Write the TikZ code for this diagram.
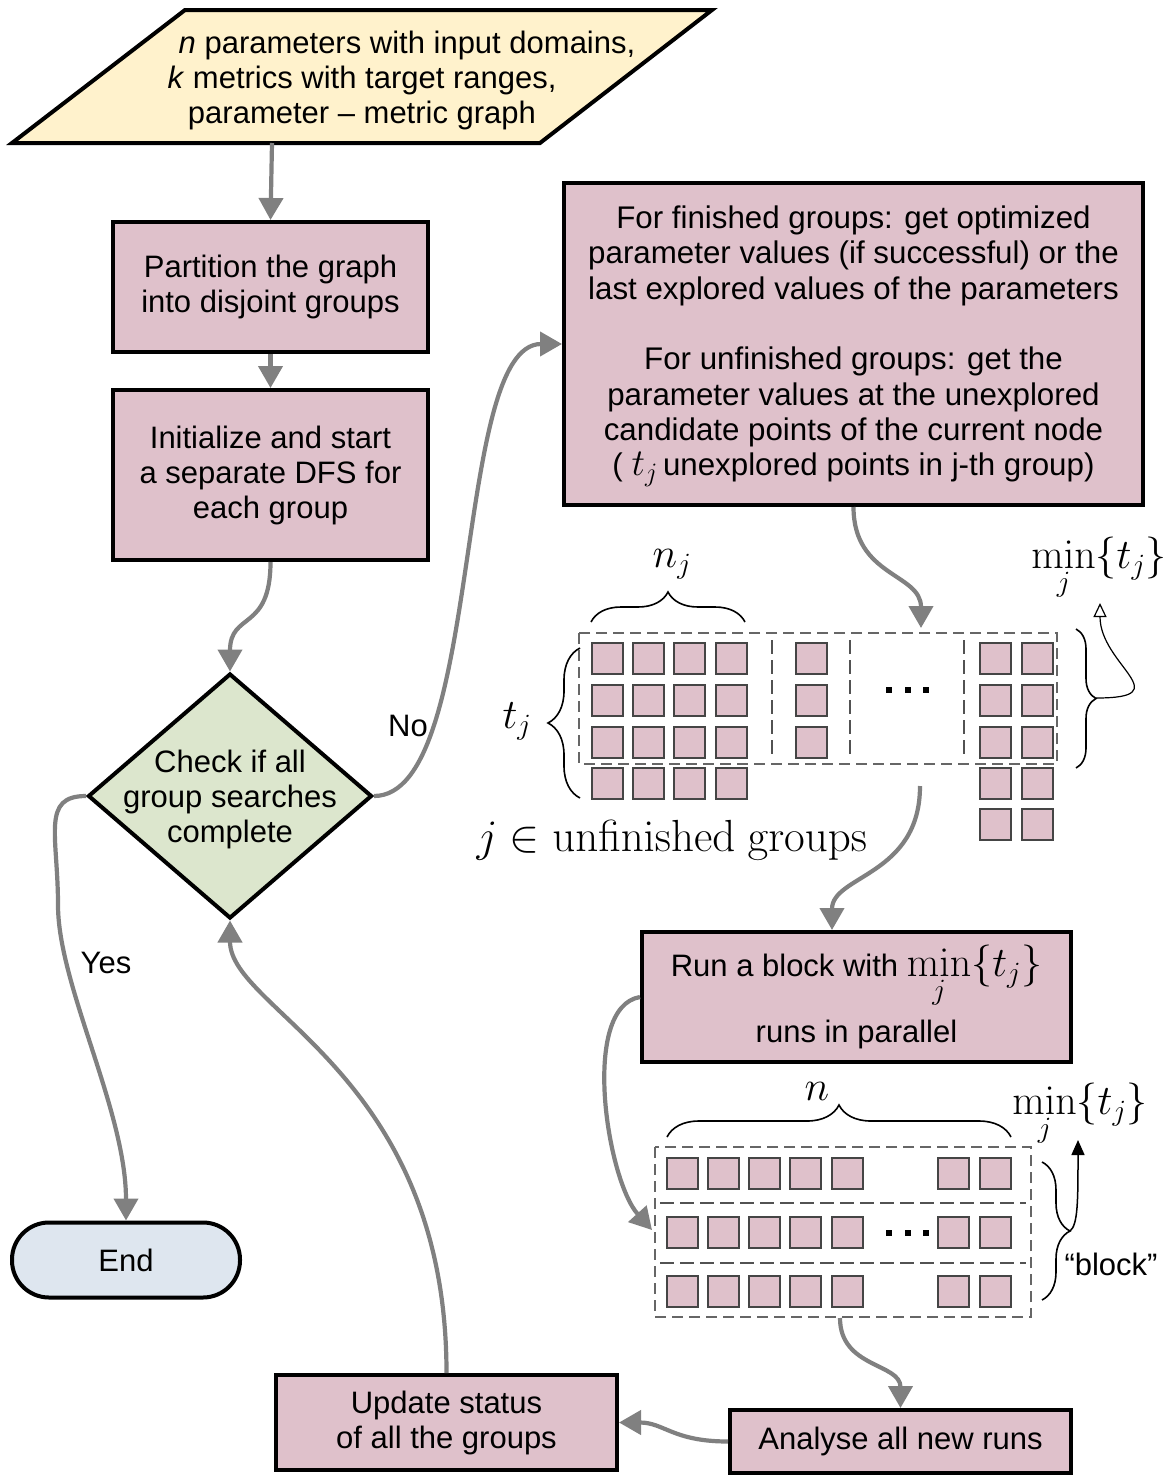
\RequirePackage{fix-cm}
\documentclass[tikz,border=0pt]{standalone}
\usepackage{amsmath}
\usepackage[no-math]{fontspec}
\setmainfont{Liberation Sans}
\usetikzlibrary{shapes.geometric,arrows.meta,decorations.pathreplacing}
\definecolor{pinkf}{HTML}{DFC1CB}
\definecolor{yelf}{HTML}{FFF2CC}
\definecolor{grnf}{HTML}{DCE6CD}
\definecolor{bluf}{HTML}{DEE6EF}
\definecolor{conng}{HTML}{808080}
\definecolor{sqb}{HTML}{454545}
\definecolor{dshg}{HTML}{666666}
\tikzset{
  txt/.style={font=\fontsize{31}{35}\selectfont, align=center, inner sep=0pt},
  box/.style={txt, draw=black, line width=4pt, fill=pinkf},
  conn/.style={draw=conng, line width=4.2pt, -{Triangle[length=22pt,width=24pt]}},
  sq/.style={draw=sqb, fill=pinkf, line width=1.8pt},
  outerdash/.style={draw=dshg, line width=1.8pt, dash pattern=on 11pt off 6pt},
  sepdash/.style={draw=dshg!80!black, line width=2.2pt, dash pattern=on 14pt off 6pt},
  brc/.style={draw=black, line width=1.6pt, decorate, decoration={brace, amplitude=#1}},
  mathl/.style={font=\fontsize{42}{46}\selectfont, inner sep=0pt, anchor=base},
}
\begin{document}
\begin{tikzpicture}[x=1pt,y=-1pt]
\fill[white] (0,0) rectangle (1170,1475);
\useasboundingbox (0,0) rectangle (1170,1475);

% input parallelogram
\draw[line width=4pt, fill=yelf] (185,10) -- (712,10) -- (540,143) -- (12,143) -- cycle;
\node[txt] (inp) at (362,80) {\hspace*{90pt}\textit{n} parameters with input domains,\\ \textit{k} metrics with target ranges,\\ parameter – metric graph};
\coordinate (inpb) at (272,143);

% boxes
\node[box, minimum width=315pt, minimum height=130pt] (part) at (270.5,287) {Partition the graph\\ into disjoint groups};
\node[box, minimum width=315pt, minimum height=170pt] (init) at (270.5,475) {Initialize and start\\ a separate DFS for\\ each group};
\node[diamond, draw=black, line width=4pt, fill=grnf, minimum width=284pt, minimum height=245pt, inner sep=0pt] (chk) at (230,796) {};
\node[txt] (chkt) at ([yshift=-3pt]chk.center) {Check if all\\ group searches\\ complete};
\node[box, fill=bluf, rounded corners=37pt, minimum width=228pt, minimum height=75pt] (end) at (126,1260) {End};
\node[box, minimum width=579pt, minimum height=322pt, font=\fontsize{31.3}{35.3}\selectfont] (big) at (853.5,344) {For finished groups: get optimized\\ parameter values (if successful) or the\\ last explored values of the parameters\\[35.3pt] For unfinished groups: get the\\ parameter values at the unexplored\\ candidate points of the current node\\ ( {\fontsize{38}{35}\selectfont\smash{$t_j$}}\,unexplored points in j-th group)};
\node[box, minimum width=429pt, minimum height=130pt] (run) at (856.5,997) {Run a block with {\fontsize{42}{35}\selectfont$\displaystyle\min_j\{t_j\}$}\\[11pt] runs in parallel};
\node[box, minimum width=341pt, minimum height=95pt] (upd) at (446.5,1422.5) {Update status\\ of all the groups};
\node[box, minimum width=341pt, minimum height=63pt] (ana) at (900.5,1441.5) {Analyse all new runs};

\node[txt] (no) at (408,726) {No};
\node[txt] (yes) at (106,963) {Yes};

% grid 1
\draw[outerdash] (579,633) rectangle (1057,764);
\foreach \xx in {772,850,964} \draw[sepdash] (\xx,640) -- (\xx,758);
\foreach \xx in {592,633,674,716} \foreach \yy in {643,685,727,768} \draw[sq] (\xx,\yy) rectangle ++(31,31);
\foreach \yy in {643,685,727} \draw[sq] (796,\yy) rectangle ++(31,31);
\foreach \xx in {980,1022} \foreach \yy in {643,685,727,768,809} \draw[sq] (\xx,\yy) rectangle ++(31,31);
\foreach \xx in {889,908,926} \fill (\xx-3,687) rectangle ++(6,6);
\draw[brc=30pt] (591,622) -- (745,622);
\draw[brc=32pt] (580,798) -- (580,648);
\draw[brc=20pt] (1076,629) -- (1076,768);
\node[mathl] (nj) at (672,567) {$n_j$};
\node[mathl] (tj) at (517,728) {$t_j$};
\node[mathl] (m1) at (1099,568) {$\displaystyle\min_j\{t_j\}$};
\node[mathl, font=\fontsize{45}{48}\selectfont] (unf) at (672,851) {$j\in\mathrm{unfinished\ groups}$};
\coordinate (b3tip) at (1096,698);
\coordinate (m1a) at (1100,603);
\draw[line width=1.2pt, -{Triangle[open, length=14pt, width=13pt]}] (b3tip) .. controls (1180,698) and (1100,665) .. (m1a);

% grid 2
\draw[outerdash] (655,1147) rectangle (1031,1317);
\foreach \yy in {1203,1263} \draw[sepdash] (660,\yy) -- (1026,\yy);
\foreach \xx in {667,708,749,790,832,938,980} \foreach \yy in {1158,1217,1276} \draw[sq] (\xx,\yy) rectangle ++(31,31);
\foreach \xx in {889,908,926} \fill (\xx-3,1230) rectangle ++(6,6);
\draw[brc=32pt] (667,1137) -- (1011,1137);
\draw[brc=28pt] (1042,1162) -- (1042,1300);
\node[mathl] (n2) at (817,1100) {$n$};
\node[mathl] (m2) at (1080,1114) {$\displaystyle\min_j\{t_j\}$};
\node[txt, anchor=base] (blk) at (1111,1275) {“block”};
\coordinate (b4tip) at (1070,1231);
\coordinate (m2a) at (1078,1140);
\draw[line width=1.5pt, -{Triangle[length=15pt,width=13pt]}] (b4tip) .. controls (1078,1225) and (1078,1200) .. (m2a);

% connector ends
\coordinate (g1in) at (921,628);
\coordinate (g1out) at (920,786);
\coordinate (g2in) at (652,1230);
\coordinate (g2out) at (840,1318);

% connectors
\draw[conn] (inpb) -- (part.north);
\draw[conn] (part.south) -- (init.north);
\draw[conn] (init.south) .. controls +(0,70) and +(0,-60) .. (chk.north);
\draw[conn] (chk.east) .. controls +(110,0) and +(-110,0) .. (big.west);
\draw[conn] (chk.west) .. controls +(-45,0) and +(0,-70) .. (58,905) .. controls +(0,80) and +(0,-110) .. (end.north);
\draw[conn] (big.south) .. controls +(0,70) and +(0,-55) .. (g1in);
\draw[conn] (g1out) .. controls +(0,90) and +(0,-55) .. ([xshift=-24.5pt]run.north);
\draw[conn] (run.west) .. controls +(-60,10) and +(-45,-50) .. (g2in);
\draw[conn] (g2out) .. controls +(0,50) and +(0,-45) .. (ana.north);
\draw[conn] (ana.west) .. controls +(-55,0) and +(45,0) .. (upd.east);
\draw[conn] (upd.north) .. controls +(0,-300) and +(0,90) .. (chk.south);
\end{tikzpicture}
\end{document}
